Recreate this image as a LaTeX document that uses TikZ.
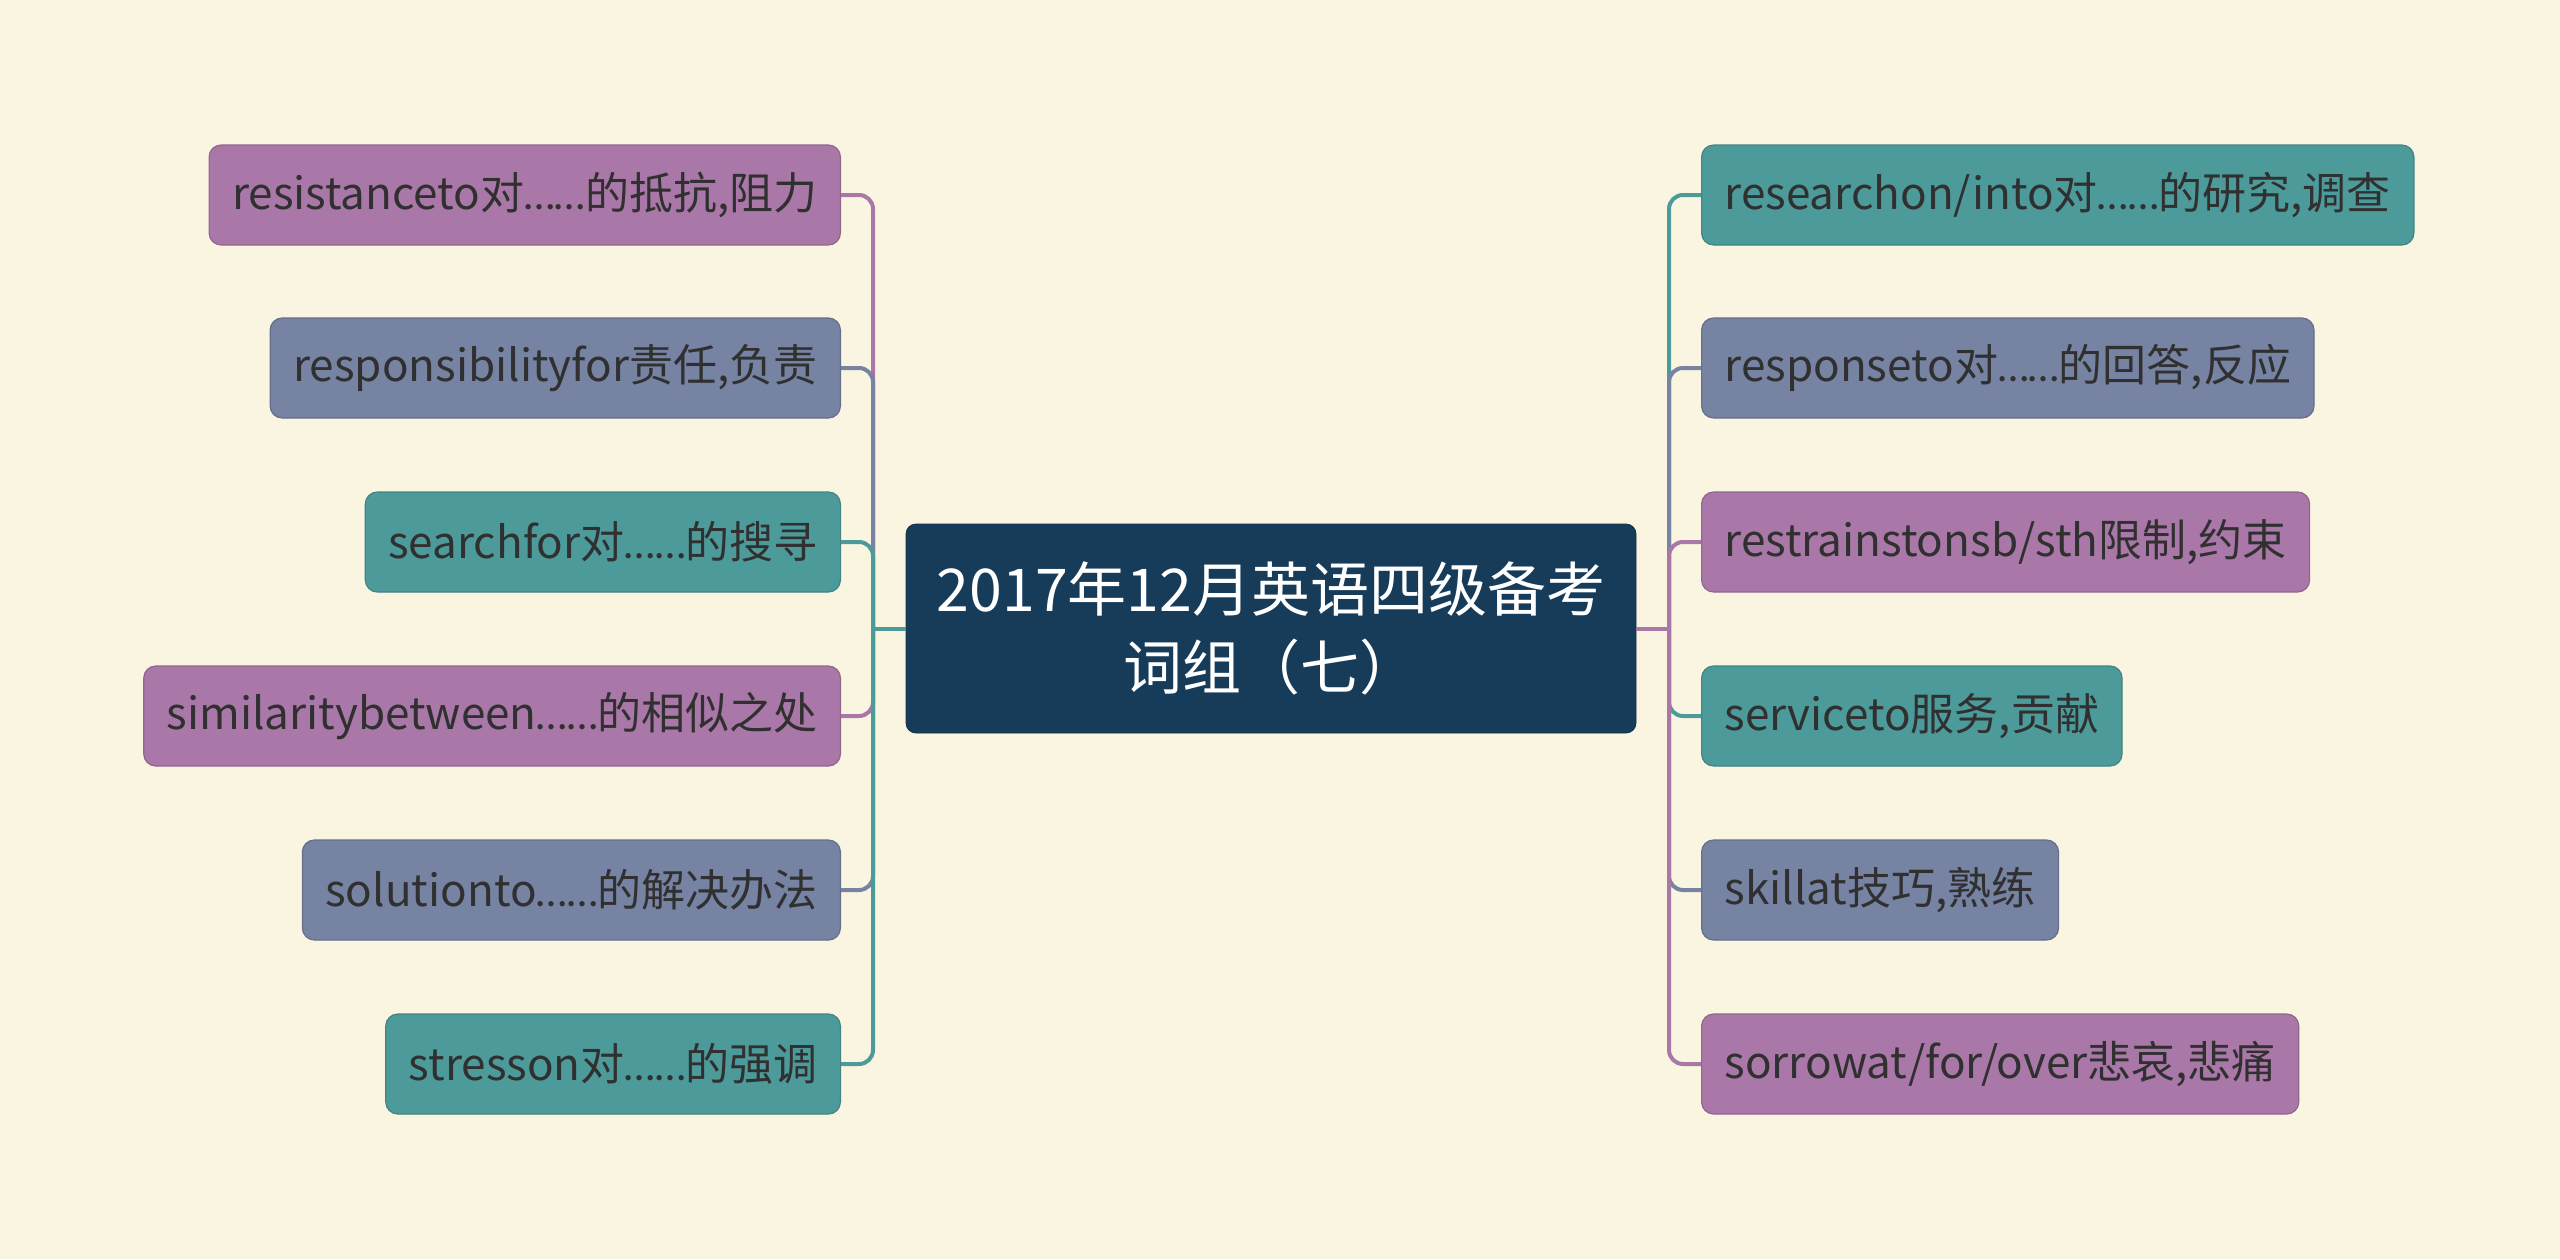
\documentclass[tikz,border=0pt]{standalone}
\usepackage{fontspec}
\setmainfont{Noto Sans CJK SC}
\newfontfamily\dotsfont{Carlito}
\usepackage{xcolor}
\definecolor{MapBg}{HTML}{FAF5E1}
\definecolor{TopicNavy}{HTML}{173C5A}
\definecolor{LeafPurple}{HTML}{A978A8}
\definecolor{LeafSlate}{HTML}{7683A3}
\definecolor{LeafTeal}{HTML}{4C9B9A}
\definecolor{LeafText}{HTML}{303030}
\newcommand{\ellip}{{\dotsfont ……}}

\begin{document}
\begin{tikzpicture}[
    x=0.5pt, y=-0.5pt,
    leaf/.style={draw=#1!85!black, fill=#1, line width=0.6pt, rounded corners=6pt,
                 minimum height=50pt, inner xsep=11.5pt, text=LeafText,
                 font=\fontsize{22}{26}\selectfont},
    topic/.style={draw=TopicNavy!80!black, fill=TopicNavy, rounded corners=5pt,
                  minimum width=365pt, minimum height=104.5pt, align=center,
                  text=white, font=\fontsize{29.5}{39}\selectfont},
    link/.style={draw=#1, line width=2pt, rounded corners=7pt}
  ]
    \fill[MapBg] (0,0) rectangle (2560,1259);
    \useasboundingbox (0,0) rectangle (2560,1259);

    \node[topic] (topic) at (1271,628.5) {2017年12月英语四级备考\\词组（七）};

    % left side
    \node[leaf=LeafPurple, anchor=east] (l1) at (841,195) {resistanceto对\ellip 的抵抗,阻力};
    \node[leaf=LeafSlate, anchor=east] (l2) at (841,368) {responsibilityfor责任,负责};
    \node[leaf=LeafTeal, anchor=east] (l3) at (841,542) {searchfor对\ellip 的搜寻};
    \node[leaf=LeafPurple, anchor=east] (l4) at (841,716) {similaritybetween\ellip 的相似之处};
    \node[leaf=LeafSlate, anchor=east] (l5) at (841,890) {solutionto\ellip 的解决办法};
    \node[leaf=LeafTeal, anchor=east] (l6) at (841,1064) {stresson对\ellip 的强调};

    % right side
    \node[leaf=LeafTeal, anchor=west] (r1) at (1701,195) {researchon/into对\ellip 的研究,调查};
    \node[leaf=LeafSlate, anchor=west] (r2) at (1701,368) {responseto对\ellip 的回答,反应};
    \node[leaf=LeafPurple, anchor=west] (r3) at (1701,542) {restrainstonsb/sth限制,约束};
    \node[leaf=LeafTeal, anchor=west] (r4) at (1701,716) {serviceto服务,贡献};
    \node[leaf=LeafSlate, anchor=west] (r5) at (1701,890) {skillat技巧,熟练};
    \node[leaf=LeafPurple, anchor=west] (r6) at (1701,1064) {sorrowat/for/over悲哀,悲痛};

    \coordinate (lj) at (873,628.5);
    \coordinate (rj) at (1669,628.5);

    \draw[link=LeafPurple] (lj) |- (l1.east);
    \draw[link=LeafSlate] (lj) |- (l2.east);
    \draw[link=LeafTeal] (lj) |- (l3.east);
    \draw[link=LeafPurple] (lj) |- (l4.east);
    \draw[link=LeafSlate] (lj) |- (l5.east);
    \draw[link=LeafTeal] (lj) |- (l6.east);
    \draw[link=LeafTeal] (topic.west) -- (lj);

    \draw[link=LeafTeal] (rj) |- (r1.west);
    \draw[link=LeafSlate] (rj) |- (r2.west);
    \draw[link=LeafPurple] (rj) |- (r3.west);
    \draw[link=LeafTeal] (rj) |- (r4.west);
    \draw[link=LeafSlate] (rj) |- (r5.west);
    \draw[link=LeafPurple] (rj) |- (r6.west);
    \draw[link=LeafPurple] (topic.east) -- (rj);
\end{tikzpicture}
\end{document}
